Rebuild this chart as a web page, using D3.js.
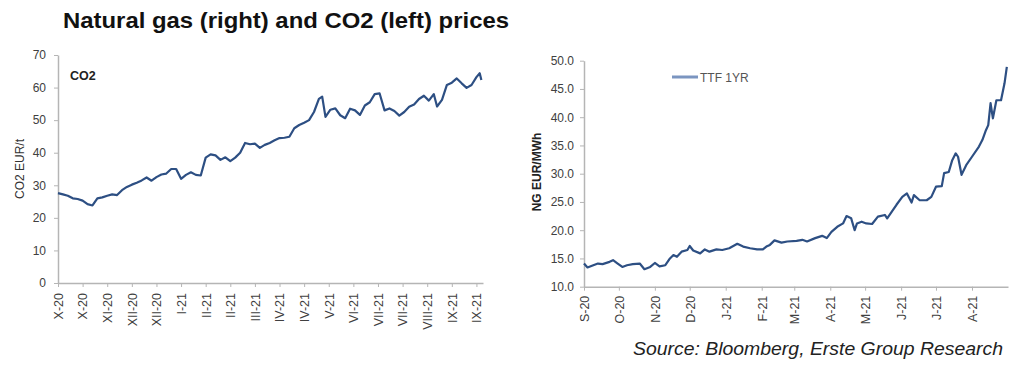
<!DOCTYPE html>
<html><head><meta charset="utf-8">
<script src="https://cdn.jsdelivr.net/npm/d3@7"></script>
<style>
body{margin:0;background:#fff}
svg{display:block}
text{font-family:"Liberation Sans",Arial,sans-serif}
</style>
</head><body>
<svg id="c" width="1024" height="367"></svg>
<script>
// ---------- DATA ----------
// CO2 (left): business-day index since start, EUR/t
const co2Days = [0,3,6,9,12,15,18,21,24,27,30,33,36,39,42,45,48,51,54,57,60,63,66,69,72,75,78,81,84,87,
  90,93,96,99,102,105,108,111,114,117,120,123,126,129,132,135,138,141,144,147,150,153,156,159,
  161,163,
  166,169,172,175,178,181,184,187,190,193,196,199,202,205,208,211,214,217,220,223,226,229,
  231,234,237,240,243,246,249,252,255,257,258];
const co2Vals = [27.6,27.2,26.8,26.0,25.8,25.3,24.2,23.8,26.0,26.3,26.8,27.2,27.0,28.5,29.5,30.2,30.8,31.5,32.4,31.4,
  32.5,33.3,33.6,35.0,35.0,32.0,33.2,34.0,33.2,33.0,
  38.5,39.5,39.2,37.8,38.6,37.4,38.5,40.0,43.0,42.6,42.8,41.5,42.4,43.0,43.8,44.5,44.6,44.9,47.5,48.5,49.2,50.0,52.5,56.5,
  57.2,51.0,
  53.2,53.6,51.5,50.6,53.5,53.0,51.6,54.5,55.5,58.0,58.2,53.0,53.6,52.8,51.4,52.5,54.1,54.8,56.5,57.5,56.0,58.0,
  54.2,56.2,60.8,61.5,62.8,61.3,59.9,60.8,63.2,64.4,62.3];
const co2TickDays = [0,15,30,45,60,75,90,105,120,135,150,165,180,195,210,225,240,255];
const co2TickLabels = ["X-20","X-20","XI-20","XII-20","XII-20","I-21","II-21","II-21","III-21",
  "IV-21","IV-21","V-21","VI-21","VII-21","VII-21","VIII-21","IX-21","IX-21"];
const co2YTicks = [0,10,20,30,40,50,60,70];

// Natural gas TTF 1YR (right): days since 2020-09-01, EUR/MWh
const ngDays = [0,3,8,12,16,22,25,29,33,37,42,48,52,57,61,65,70,74,77,80,84,89,91,94,100,104,108,114,119,125,
  132,137,143,149,154,157,160,164,170,175,183,188,192,199,205,209,213,218,223,226,230,233,235,239,243,
  248,253,259,261,265,269,274,278,282,284,289,295,299,303,308,310,314,317,320,322,325,329,334,340,343,
  346,348,350,352,355,359,362,364];
const ngVals = [14.1,13.4,13.8,14.1,14.0,14.4,14.7,14.1,13.5,13.8,14.0,14.1,13.1,13.5,14.2,13.6,13.8,15.0,15.6,15.3,
  16.2,16.5,17.2,16.4,15.9,16.6,16.2,16.6,16.5,16.8,17.6,17.1,16.8,16.6,16.6,17.1,17.4,18.2,17.8,18.0,
  18.1,18.3,18.0,18.6,19.0,18.6,19.7,20.6,21.2,22.5,22.1,20.0,21.2,21.5,21.2,21.1,22.4,22.7,22.1,23.3,
  24.5,25.9,26.5,24.9,26.2,25.3,25.3,25.9,27.7,27.8,30.1,30.3,32.4,33.6,33.0,29.8,31.5,33.0,34.8,36.0,
  37.7,38.6,42.5,39.8,43.0,43.0,46.0,48.9];
const ngTickLabels = ["S-20","O-20","N-20","D-20","J-21","F-21","M-21","A-21","M-21","J-21","J-21","A-21"];
const ngYTicks = [10,15,20,25,30,35,40,45,50];
const ngStart = new Date(2020, 8, 1), ngEnd = new Date(2021, 8, 1);

// ---------- STYLE ----------
const lineColor = "#2d4f83";
const axisColor = "#b5b5b5";
const labelColor = "#404040";

const svg = d3.select("#c");

// Title
svg.append("text").attr("x", 63).attr("y", 28)
  .attr("font-size", 22).attr("font-weight", "bold").attr("fill", "#111")
  .attr("textLength", 446).attr("lengthAdjust", "spacingAndGlyphs")
  .text("Natural gas (right) and CO2 (left) prices");

function styleAxis(g, fs) {
  g.select(".domain").attr("stroke", axisColor).attr("stroke-width", 1.5);
  g.selectAll(".tick line").attr("stroke", axisColor).attr("stroke-width", 1);
  g.selectAll(".tick text").attr("fill", labelColor).attr("font-size", fs)
    .attr("font-family", "'Liberation Sans',Arial,sans-serif");
}

// ---------- LEFT: CO2 ----------
const cx = d3.scaleLinear().domain([0, 259]).range([58, 483]);
const cy = d3.scaleLinear().domain([0, 70]).range([283, 55]);

const cyAxis = svg.append("g").attr("transform", `translate(${cx(0)},0)`)
  .call(d3.axisLeft(cy).tickValues(co2YTicks).tickFormat(d3.format("d"))
    .tickSize(4).tickSizeOuter(0).tickPadding(8));
styleAxis(cyAxis, 12);

const cxAxis = svg.append("g").attr("transform", `translate(0,${cy(0)})`)
  .call(d3.axisBottom(cx).tickValues(co2TickDays).tickFormat((d, i) => co2TickLabels[i])
    .tickSize(4).tickSizeOuter(0));
styleAxis(cxAxis, 12.5);
cxAxis.selectAll(".tick text").attr("transform", "rotate(-90)")
  .attr("text-anchor", "end").attr("x", -10).attr("y", 0).attr("dy", "0.35em");

svg.append("path")
  .datum(co2Days.map((d, i) => [d, co2Vals[i]]))
  .attr("fill", "none").attr("stroke", lineColor).attr("stroke-width", 2.2)
  .attr("stroke-linejoin", "round")
  .attr("d", d3.line().x(d => cx(d[0])).y(d => cy(d[1])));

svg.append("text").attr("x", 70).attr("y", 79.5).attr("font-size", 12.5)
  .attr("font-weight", "bold").attr("fill", "#222").text("CO2");

svg.append("text").attr("transform", "translate(20,169) rotate(-90)")
  .attr("text-anchor", "middle").attr("dy", "0.35em").attr("font-size", 12)
  .attr("fill", "#333").text("CO2 EUR/t");

// ---------- RIGHT: Natural gas ----------
const nx = d3.scaleTime().domain([ngStart, ngEnd]).range([584, 1008]);
const ny = d3.scaleLinear().domain([10, 50]).range([286.7, 60.7]);
const ngDates = ngDays.map(d => d3.timeDay.offset(ngStart, d));

const nyAxis = svg.append("g").attr("transform", `translate(${nx(ngStart)},0)`)
  .call(d3.axisLeft(ny).tickValues(ngYTicks).tickFormat(d3.format(".1f"))
    .tickSize(4).tickSizeOuter(0).tickPadding(6));
styleAxis(nyAxis, 12);

const ngTickDates = d3.timeMonth.range(ngStart, ngEnd);
const nxAxis = svg.append("g").attr("transform", `translate(0,${ny(10)})`)
  .call(d3.axisBottom(nx).tickValues(ngTickDates).tickFormat((d, i) => ngTickLabels[i])
    .tickSize(4).tickSizeOuter(0));
styleAxis(nxAxis, 12.5);
nxAxis.selectAll(".tick text").attr("transform", "rotate(-90)")
  .attr("text-anchor", "end").attr("x", -9).attr("y", 0).attr("dy", "0.35em");

svg.append("path")
  .datum(ngDates.map((d, i) => [d, ngVals[i]]))
  .attr("fill", "none").attr("stroke", lineColor).attr("stroke-width", 2.2)
  .attr("stroke-linejoin", "round")
  .attr("d", d3.line().x(d => nx(d[0])).y(d => ny(d[1])));

// legend
svg.append("line").attr("x1", 672).attr("x2", 698).attr("y1", 77).attr("y2", 77)
  .attr("stroke", "#7b95c0").attr("stroke-width", 3);
svg.append("text").attr("x", 700).attr("y", 81.5).attr("font-size", 12)
  .attr("fill", "#555").text("TTF 1YR");

svg.append("text").attr("transform", "translate(537,172) rotate(-90)")
  .attr("text-anchor", "middle").attr("dy", "0.35em").attr("font-size", 12)
  .attr("font-weight", "bold").attr("fill", "#222").text("NG EUR/MWh");

// source
svg.append("text").attr("x", 1003).attr("y", 355).attr("text-anchor", "end")
  .attr("font-size", 18.5).attr("font-style", "italic").attr("fill", "#222")
  .attr("textLength", 370).attr("lengthAdjust", "spacingAndGlyphs")
  .text("Source: Bloomberg, Erste Group Research");
</script>
</body></html>
